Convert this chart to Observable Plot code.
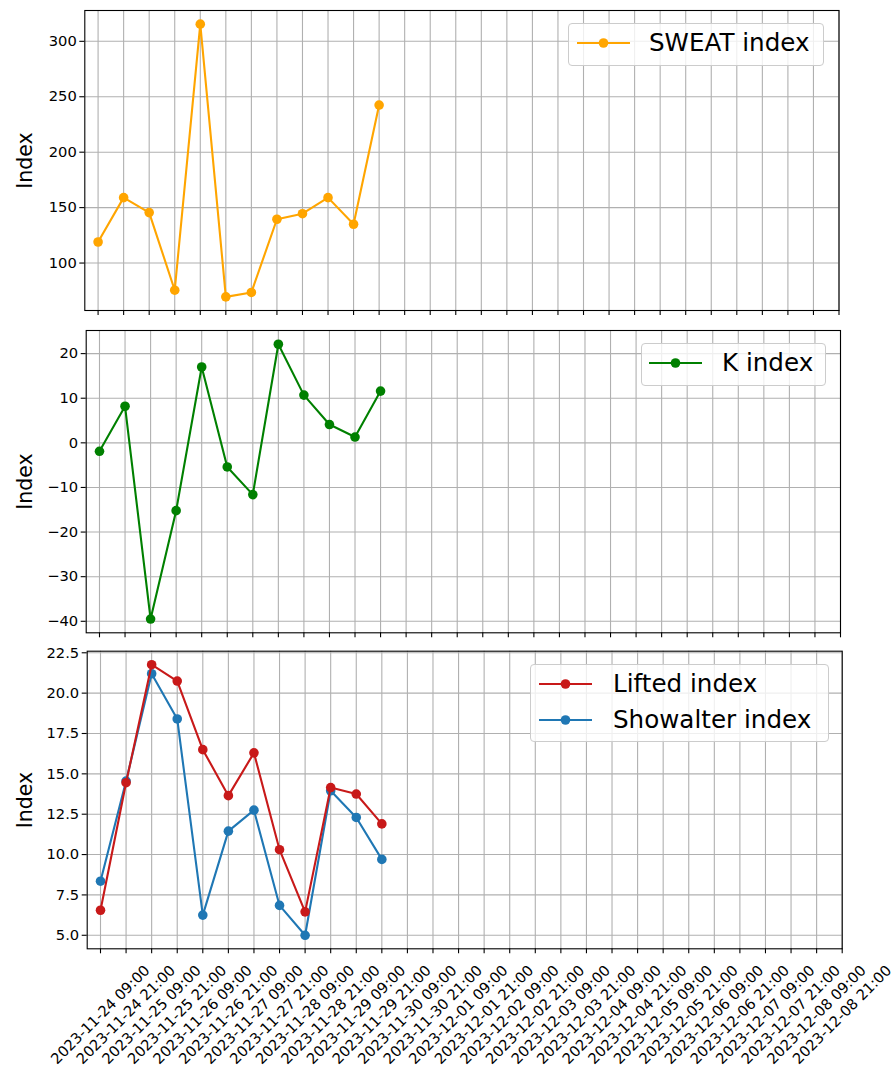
<!DOCTYPE html>
<html><head><meta charset="utf-8">
<script src="https://cdn.jsdelivr.net/npm/d3@7"></script>
<script src="https://cdn.jsdelivr.net/npm/@observablehq/plot@0.6"></script>
<style>
body{margin:0;background:#fff;font-family:"DejaVu Sans",sans-serif;}
#wrap{position:relative;width:896px;height:1070px;overflow:hidden;background:#fff;}
.panel{position:absolute;left:0;}
.legend{position:absolute;background:rgba(255,255,255,0.8);border:1.3px solid #cccccc;border-radius:4px;box-sizing:border-box;}
.lab{position:absolute;height:30px;line-height:30px;font-size:24.6px;color:#000;white-space:nowrap;font-family:"DejaVu Sans",sans-serif;}
.hnd{position:absolute;}
</style></head><body><div id="wrap"></div>
<script>
// ---- data ----
const tickLabels = [
  "2023-11-24 09:00","2023-11-24 21:00","2023-11-25 09:00","2023-11-25 21:00",
  "2023-11-26 09:00","2023-11-26 21:00","2023-11-27 09:00","2023-11-27 21:00",
  "2023-11-28 09:00","2023-11-28 21:00","2023-11-29 09:00","2023-11-29 21:00",
  "2023-11-30 09:00","2023-11-30 21:00","2023-12-01 09:00","2023-12-01 21:00",
  "2023-12-02 09:00","2023-12-02 21:00","2023-12-03 09:00","2023-12-03 21:00",
  "2023-12-04 09:00","2023-12-04 21:00","2023-12-05 09:00","2023-12-05 21:00",
  "2023-12-06 09:00","2023-12-06 21:00","2023-12-07 09:00","2023-12-07 21:00",
  "2023-12-08 09:00","2023-12-08 21:00"
];
const obsTimes = [
  "2023-11-24 09:00","2023-11-24 21:00","2023-11-25 09:00","2023-11-25 21:00",
  "2023-11-26 09:00","2023-11-26 21:00","2023-11-27 09:00","2023-11-27 21:00",
  "2023-11-28 09:00","2023-11-28 21:00","2023-11-29 09:00","2023-11-29 21:00"
];
const sweat     = [119, 159, 145.5, 75.5, 315.5, 69.5, 73.5, 139.5, 144.5, 159, 135, 242.5];
const kIndex    = [-1.9, 8.2, -39.5, -15.2, 17.0, -5.4, -11.6, 22.1, 10.7, 4.1, 1.3, 11.6];
const lifted    = [6.55, 14.45, 21.76, 20.75, 16.5, 13.65, 16.3, 10.3, 6.45, 14.15, 13.75, 11.9];
const showalter = [8.35, 14.55, 21.2, 18.4, 6.25, 11.45, 12.75, 6.85, 5.0, 13.95, 12.3, 9.7];

const sweatTicks = [100, 150, 200, 250, 300];
const kTicks = [-40, -30, -20, -10, 0, 10, 20];
const liTicks = [5, 7.5, 10, 12.5, 15, 17.5, 20, 22.5];

const C_SWEAT = "orange", C_K = "green", C_LI = "#c81919", C_SI = "#1f77b4";

// ---- helpers ----
const parse = d3.utcParse("%Y-%m-%d %H:%M");
const fmt = d3.utcFormat("%Y-%m-%d %H:%M");
const tickDates = tickLabels.map(parse);
const obsDates = obsTimes.map(parse);
const step = 12 * 3600 * 1000;
const xDomain = [new Date(+tickDates[0] - 0.52 * step), tickDates[tickDates.length - 1]];

function padExtent(arrs) {
  const all = arrs.flat();
  const [a, b] = d3.extent(all);
  const p = (b - a) * 0.05;
  return [a - p, b + p];
}

const wrap = document.getElementById("wrap");

function panel({top, height, mt, mb, ml, mr, yDomain, yTicks, yFmt, series, showLabels}) {
  const marks = [
    Plot.gridX(tickDates, {stroke: "#b0b0b0", strokeOpacity: 1, strokeWidth: 1.1}),
    Plot.gridY(yTicks, {stroke: "#b0b0b0", strokeOpacity: 1, strokeWidth: 1.1}),
    Plot.axisX({ticks: tickDates, tickSize: 5, tickFormat: () => "", label: null, stroke: "#000", strokeWidth: 1.1}),
    Plot.axisY({ticks: yTicks, tickSize: 5, tickPadding: 3, tickFormat: yFmt, label: null, stroke: "#000", strokeWidth: 1.1, fontSize: 14.7, fill: "#000"})
  ];
  for (const s of series) {
    const rows = obsDates.map((d, i) => ({t: d, v: s.values[i]}));
    marks.push(Plot.line(rows, {x: "t", y: "v", stroke: s.color, strokeWidth: 2.1}));
    marks.push(Plot.dot(rows, {x: "t", y: "v", fill: s.color, r: 4.8, stroke: "none"}));
  }
  marks.push(Plot.frame({stroke: "#000", strokeWidth: 1.1}));
  marks.push(Plot.text(["Index"], {frameAnchor: "left", rotate: -90, textAnchor: "middle", lineAnchor: "middle", dx: -(ml - 25), fontSize: 20.5, fill: "#000"}));
  if (showLabels) {
    marks.push(Plot.text(tickDates, {x: d => d, frameAnchor: "bottom", dy: 66, rotate: -45, textAnchor: "middle", lineAnchor: "middle", text: d => fmt(d), fontSize: 14.7, fill: "#000"}));
  }
  const svg = Plot.plot({
    width: 896, height,
    marginTop: mt, marginBottom: mb, marginLeft: ml, marginRight: mr,
    x: {type: "utc", domain: xDomain, label: null},
    y: {domain: yDomain, label: null, nice: false},
    style: {fontFamily: "DejaVu Sans", fontSize: "14.7px", color: "#000", background: "transparent", overflow: "visible"},
    marks
  });
  svg.classList.add("panel");
  svg.style.top = top + "px";
  wrap.appendChild(svg);
}

panel({top: 0, height: 320, mt: 10, mb: 10, ml: 84.3, mr: 57.5,
  yDomain: padExtent([sweat]), yTicks: sweatTicks, yFmt: d3.format("d"),
  series: [{values: sweat, color: C_SWEAT}], showLabels: false});
panel({top: 320, height: 320, mt: 10, mb: 7.7, ml: 85.7, mr: 56,
  yDomain: padExtent([kIndex]), yTicks: kTicks, yFmt: d3.format("d"),
  series: [{values: kIndex, color: C_K}], showLabels: false});
panel({top: 640, height: 430, mt: 10.7, mb: 121.7, ml: 86.7, mr: 54.3,
  yDomain: padExtent([lifted, showalter]), yTicks: liTicks, yFmt: d3.format(".1f"),
  series: [{values: showalter, color: C_SI}, {values: lifted, color: C_LI}], showLabels: true});

// ---- legends ----
function legend(box, items) {
  const div = document.createElement("div");
  div.className = "legend";
  Object.assign(div.style, {left: box.left + "px", top: box.top + "px", width: box.width + "px", height: box.height + "px"});
  for (const it of items) {
    const ns = "http://www.w3.org/2000/svg";
    const s = document.createElementNS(ns, "svg");
    s.setAttribute("width", 54); s.setAttribute("height", 14);
    s.setAttribute("class", "hnd");
    s.style.left = box.hx + "px"; s.style.top = (it.cy - 7) + "px";
    const l = document.createElementNS(ns, "line");
    l.setAttribute("x1", 0); l.setAttribute("x2", 53); l.setAttribute("y1", 7); l.setAttribute("y2", 7);
    l.setAttribute("stroke", it.color); l.setAttribute("stroke-width", 2.1);
    const c = document.createElementNS(ns, "circle");
    c.setAttribute("cx", 26.5); c.setAttribute("cy", 7); c.setAttribute("r", 4.8); c.setAttribute("fill", it.color);
    s.appendChild(l); s.appendChild(c);
    div.appendChild(s);
    const t = document.createElement("div");
    t.className = "lab";
    t.textContent = it.label;
    t.style.left = box.tx + "px"; t.style.top = (it.cy - 15) + "px";
    div.appendChild(t);
  }
  wrap.appendChild(div);
}
legend({left: 568, top: 22.7, width: 256, height: 43, hx: 8, tx: 80}, [{label: "SWEAT index", color: C_SWEAT, cy: 19.5}]);
legend({left: 641, top: 342.5, width: 185, height: 43, hx: 7, tx: 80}, [{label: "K index", color: C_K, cy: 19.5}]);
legend({left: 530, top: 664, width: 299, height: 78, hx: 8, tx: 82}, [
  {label: "Lifted index", color: C_LI, cy: 19},
  {label: "Showalter index", color: C_SI, cy: 55}
]);
</script></body></html>
